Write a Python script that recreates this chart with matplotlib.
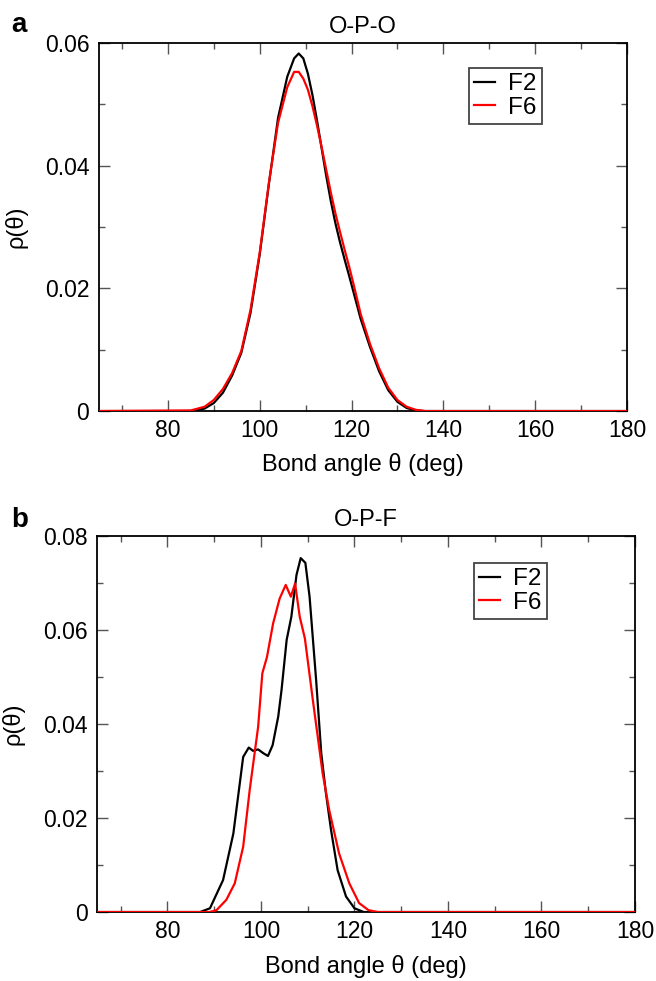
import matplotlib
matplotlib.use("Agg")
import matplotlib.pyplot as plt
from matplotlib.ticker import MultipleLocator

plt.rcParams['font.family'] = ['Liberation Sans', 'DejaVu Sans']

# panel a: O-P-O bond angle distribution
opo_angle = [65, 85, 88, 90, 92, 94, 96, 98, 100, 102, 104, 106, 107.5, 108.5, 109.5,
             110.5, 111.5, 112.5, 113.5, 114.5, 115.5, 116.5, 117.5, 118.5, 119.5, 120.5,
             122, 124, 126, 128, 130, 132, 134, 136, 180]
opo_f2 = [0, 0.0000, 0.0004, 0.0013, 0.0030, 0.0058, 0.0095, 0.0160, 0.0255, 0.0370,
          0.0478, 0.0545, 0.0575, 0.0583, 0.0575, 0.0550, 0.0515, 0.0473, 0.0428, 0.0383,
          0.0342, 0.0306, 0.0275, 0.0247, 0.0220, 0.0192, 0.0150, 0.0105, 0.0065, 0.0034,
          0.0015, 0.0005, 0.0001, 0, 0]
opo_f6 = [0, 0.0001, 0.0007, 0.0018, 0.0036, 0.0062, 0.0098, 0.0165, 0.0258, 0.0372,
          0.0470, 0.0528, 0.0553, 0.0553, 0.0542, 0.0524, 0.0497, 0.0465, 0.0430, 0.0393,
          0.0356, 0.0322, 0.0292, 0.0263, 0.0235, 0.0205, 0.0158, 0.0110, 0.0070, 0.0038,
          0.0018, 0.0007, 0.0002, 0, 0]

# panel b: O-P-F bond angle distribution
opf_f2_angle = [65, 87, 89.1, 91.9, 94.1, 96.2, 97.4, 98.3, 99.4, 100.5, 101.5, 102.5,
                103.7, 104.4, 105.5, 106.5, 107.6, 108.5, 109.5, 110.4, 111.8, 112.9,
                113.9, 115.0, 116.4, 118.2, 120.0, 122, 180]
opf_f2 = [0, 0, 0.0008, 0.0068, 0.0167, 0.0330, 0.0350, 0.0343, 0.0346, 0.0338, 0.0332,
          0.0355, 0.0416, 0.0472, 0.0579, 0.0628, 0.0717, 0.0753, 0.0743, 0.0671, 0.0494,
          0.0338, 0.0253, 0.0174, 0.0089, 0.0033, 0.0008, 0, 0]
opf_f6_angle = [65, 89, 90.5, 92.6, 94.4, 96.2, 97.6, 99.4, 100.3, 101.3, 102.6, 104.0,
                105.3, 106.4, 107.3, 108.3, 109.4, 111.1, 113.2, 114.6, 116.7, 118.9,
                121.0, 123, 125, 180]
opf_f6 = [0, 0, 0.0004, 0.0026, 0.0061, 0.0139, 0.0260, 0.0394, 0.0508, 0.0543, 0.0614,
          0.0667, 0.0696, 0.0671, 0.0699, 0.0628, 0.0582, 0.0451, 0.0295, 0.0217, 0.0125,
          0.0061, 0.0019, 0.0004, 0, 0]

yticks = [0, 0.02, 0.04, 0.06, 0.08]
ytick_labels = ['0', '0.02', '0.04', '0.06', '0.08']
xticks = [80, 100, 120, 140, 160, 180]


def style_axes(ax, ymax, title, leg_x, leg_y):
    n = int(round(ymax / 0.02)) + 1
    ax.set_xlim(65, 180)
    ax.set_ylim(0, ymax)
    ax.set_xticks(xticks)
    ax.set_yticks(yticks[:n])
    ax.set_yticklabels(ytick_labels[:n])
    ax.xaxis.set_minor_locator(MultipleLocator(10))
    ax.yaxis.set_minor_locator(MultipleLocator(0.01))
    ax.tick_params(which='both', direction='in', top=True, right=True,
                   labelsize=16.5, color='#555555', width=1)
    ax.tick_params(which='major', length=8)
    ax.tick_params(which='minor', length=4)
    ax.tick_params(axis='x', pad=6)
    ax.tick_params(axis='y', pad=7)
    for s in ax.spines.values():
        s.set_linewidth(1.3)
    ax.set_xlabel('Bond angle θ (deg)', fontsize=17)
    ax.xaxis.set_label_coords(0.5, -0.115)
    ax.set_ylabel('ρ(θ)', fontsize=17)
    ax.yaxis.set_label_coords(-0.135, 0.5)
    ax.set_title(title, fontsize=17, pad=7.5)
    leg = ax.legend(loc='upper left', bbox_to_anchor=(leg_x, leg_y), borderaxespad=0,
                    fontsize=17.5, handlelength=0.85, handletextpad=0.55,
                    labelspacing=0.05, borderpad=0.22, fancybox=False, framealpha=1)
    leg.get_frame().set_edgecolor('#444444')
    leg.get_frame().set_linewidth(1.3)


fig = plt.figure(figsize=(6.56, 9.81), dpi=100)

ax1 = fig.add_axes([0.1509, 0.5810, 0.8049, 0.3751])
ax1.plot(opo_angle, opo_f2, color='black', lw=1.6, label='F2', zorder=3)
ax1.plot(opo_angle, opo_f6, color='red', lw=1.6, label='F6', zorder=3)
style_axes(ax1, 0.06, 'O-P-O', 0.70, 0.932)

ax2 = fig.add_axes([0.1483, 0.0703, 0.8197, 0.3833])
ax2.plot(opf_f2_angle, opf_f2, color='black', lw=1.6, label='F2', zorder=3)
ax2.plot(opf_f6_angle, opf_f6, color='red', lw=1.6, label='F6', zorder=3)
style_axes(ax2, 0.08, 'O-P-F', 0.70, 0.928)

# panel letters
fig.text(11 / 656, 1 - 32 / 981, 'a', fontsize=20, fontweight='bold', va='baseline')
fig.text(11 / 656, 1 - 527 / 981, 'b', fontsize=20, fontweight='bold', va='baseline')

fig.savefig('out.png', dpi=100)
